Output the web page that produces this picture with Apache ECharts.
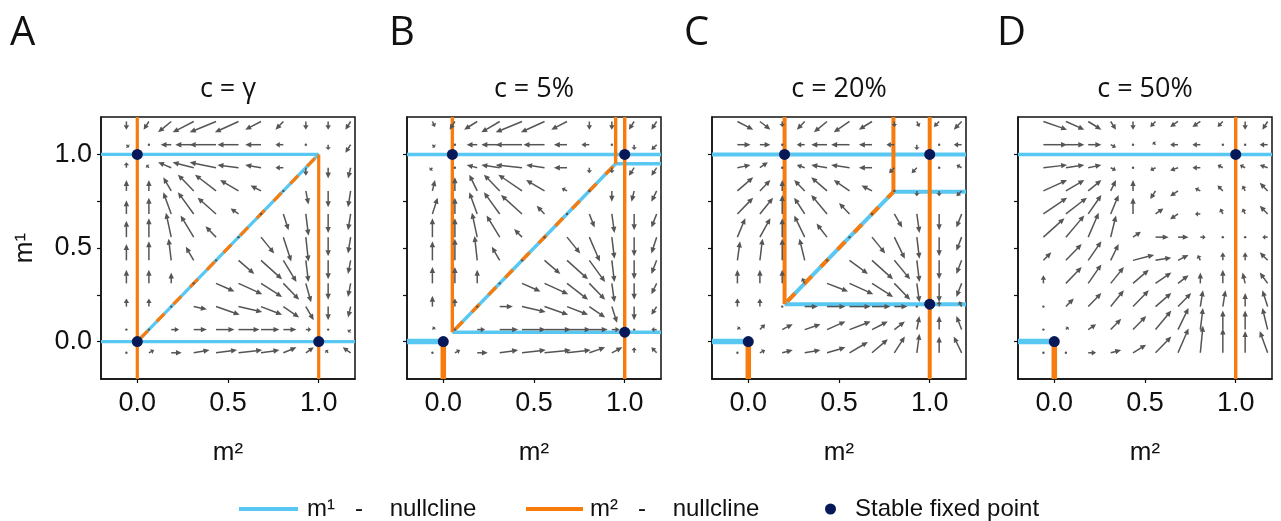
<!DOCTYPE html>
<html><head><meta charset="utf-8">
<script src="https://cdn.jsdelivr.net/npm/echarts@6/dist/echarts.min.js"></script>
<style>html,body{margin:0;padding:0;background:#fff}#c{width:1281px;height:521px}</style>
</head><body><div id="c"></div>
<script>
// ---------- data ----------
const panelLetters = ['A', 'B', 'C', 'D'];
const panelTitles = ['c = γ', 'c = 5%', 'c = 20%', 'c = 50%'];
const xTickValues = [0, 0.5, 1];
const yTickValues = [0, 0.25, 0.5, 0.75, 1];
const labelValues = [0, 0.5, 1];
const fieldGrid = [-0.06, 0.064, 0.187, 0.311, 0.434, 0.558, 0.682, 0.805, 0.929, 1.052, 1.176];

// arrow vectors [dm2, dm1] (relative units), rows from top (m1 = 1.176) to bottom (m1 = -0.06)
const fieldA = [
  [[0,-3],[-2,-3],[-5,-4],[-8,-4],[-10,-4],[-9,-4],[-6,-3],[-3,-3],[0,-3],[0,-3],[-2,-3]],
  [[1,-1],[0,0],[-4,0],[-7,0],[-10,0],[-8,0],[-6,0],[-3,0],[0,-1],[0,-2],[-2,-3]],
  [[0,2],[-1,1],[-5,2],[-8,2],[-10,2],[-8,1],[-6,1],[-3,0],[0,-3],[0,-4],[-1,-4]],
  [[0,4],[0,4],[-3,5],[-6,6],[-8,6],[-7,4],[-4,2],[0,0],[1,-5],[0,-6],[-1,-6]],
  [[0,5],[0,6],[-3,8],[-6,8],[-7,6],[-3,2],[0,0],[2,-6],[1,-8],[0,-7],[-1,-6]],
  [[0,6],[0,7],[-2,9],[-5,8],[-4,4],[0,0],[5,-6],[3,-9],[1,-9],[0,-7],[-1,-6]],
  [[0,6],[0,7],[-1,8],[-3,5],[0,0],[6,-5],[8,-7],[5,-8],[1,-8],[0,-7],[-1,-5]],
  [[0,5],[0,5],[0,4],[0,0],[7,-3],[9,-4],[8,-5],[6,-6],[2,-7],[0,-6],[-1,-5]],
  [[0,3],[0,3],[0,0],[5,-1],[9,-3],[9,-2],[8,-3],[6,-4],[3,-5],[0,-5],[-1,-4]],
  [[0,1],[0,0],[3,0],[5,0],[7,0],[8,0],[7,0],[5,0],[2,0],[0,0],[-1,-1]],
  [[0,0],[2,1],[4,0],[6,1],[8,1],[9,1],[7,1],[5,2],[3,2],[-1,1],[-3,2]]
];
const fieldB = [
  [[1,-2],[-2,-3],[-5,-3],[-7,-4],[-10,-4],[-9,-4],[-6,-3],[0,-3],[0,-3],[-2,-3],[-2,-3]],
  [[1,-1],[0,0],[-4,0],[-7,0],[-10,0],[-8,0],[-5,0],[-3,0],[0,-1],[0,-2],[-2,-2]],
  [[-1,-1],[0,0],[-4,1],[-7,1],[-10,1],[-7,1],[-5,0],[0,-2],[0,-2],[-2,-3],[-2,-3]],
  [[1,4],[0,5],[-3,6],[-6,6],[-9,6],[-7,4],[-2,1],[0,0],[0,-4],[-1,-4],[-2,-4]],
  [[2,6],[0,6],[-3,8],[-6,8],[-8,7],[-3,3],[0,0],[2,-5],[1,-7],[0,-6],[-2,-5]],
  [[0,7],[0,7],[-2,9],[-5,8],[-3,3],[0,0],[5,-6],[4,-9],[1,-8],[0,-7],[-2,-6]],
  [[0,7],[0,8],[-1,9],[-3,5],[0,0],[6,-5],[8,-7],[6,-8],[1,-8],[0,-7],[-2,-5]],
  [[0,6],[0,6],[0,5],[0,0],[7,-3],[9,-4],[8,-6],[6,-6],[1,-7],[0,-6],[-2,-4]],
  [[0,4],[0,3],[0,0],[5,0],[9,-2],[9,-3],[8,-3],[6,-4],[2,-6],[0,-5],[-2,-3]],
  [[1,1],[0,0],[3,0],[7,0],[9,0],[10,0],[9,0],[7,0],[3,0],[0,0],[-2,0]],
  [[0,0],[2,1],[4,0],[7,1],[9,1],[10,1],[9,1],[6,2],[4,2],[0,2],[-2,2]]
];
const fieldC = [
  [[6,-3],[4,-3],[0,-2],[-3,-3],[-5,-4],[-6,-4],[-5,-3],[0,-2],[1,-2],[-2,-2],[-3,-3]],
  [[5,0],[4,0],[0,0],[-3,0],[-6,0],[-7,0],[-5,0],[-3,0],[0,-2],[0,0],[-3,0]],
  [[5,1],[3,2],[0,1],[-3,1],[-6,1],[-7,1],[-5,0],[-2,-2],[-2,-2],[0,0],[-2,1]],
  [[6,5],[4,4],[0,4],[-4,4],[-6,5],[-6,4],[-4,2],[0,0],[0,-2],[0,-2],[-2,-2]],
  [[6,6],[5,6],[0,7],[-4,6],[-6,7],[-4,4],[0,0],[3,-5],[1,-7],[0,-6],[-2,-5]],
  [[3,7],[4,7],[0,7],[-4,8],[-4,5],[0,0],[5,-6],[4,-8],[1,-8],[0,-7],[-2,-5]],
  [[1,7],[1,8],[0,8],[-2,8],[0,0],[7,-5],[8,-7],[6,-7],[1,-8],[0,-7],[-2,-5]],
  [[0,5],[0,5],[0,5],[-1,2],[8,-3],[9,-4],[8,-5],[6,-6],[1,-7],[0,-7],[-2,-5]],
  [[0,3],[0,3],[0,0],[5,0],[7,0],[8,0],[7,0],[5,0],[0,0],[0,2],[-1,2]],
  [[1,1],[2,2],[4,2],[6,2],[7,3],[8,3],[6,3],[4,3],[1,5],[0,5],[-2,5]],
  [[0,0],[2,1],[4,1],[6,1],[7,2],[7,4],[6,5],[4,6],[1,7],[0,6],[-3,6]]
];
const fieldD = [
  [[9,-3],[7,-3],[5,-3],[2,-3],[0,-3],[-2,-2],[-3,-2],[-3,-2],[-2,-2],[0,-3],[-2,-3]],
  [[9,0],[7,0],[5,0],[2,-1],[0,0],[-1,1],[-3,0],[-3,0],[-1,0],[0,0],[-3,0]],
  [[9,1],[7,1],[5,1],[2,-1],[0,0],[-2,-1],[-3,-1],[-3,0],[-2,1],[-2,1],[-3,1]],
  [[9,4],[7,4],[5,4],[2,4],[0,4],[-2,-3],[-3,-2],[-2,1],[-2,2],[-1,2],[-3,3]],
  [[9,6],[8,6],[5,7],[3,7],[0,6],[3,2],[-3,-2],[-2,0],[-1,2],[-1,2],[-3,3]],
  [[8,7],[7,8],[4,9],[2,8],[3,2],[5,0],[4,0],[2,0],[0,0],[0,0],[-2,0]],
  [[3,3],[6,6],[5,7],[3,6],[8,2],[6,1],[4,2],[-1,2],[0,3],[0,3],[-3,3]],
  [[0,3],[6,6],[5,7],[5,6],[6,5],[6,4],[4,3],[0,4],[0,5],[-1,4],[-3,4]],
  [[0,1],[3,3],[5,5],[5,6],[6,6],[6,5],[5,5],[1,6],[1,6],[0,5],[-2,6]],
  [[0,0],[1,1],[3,2],[4,4],[5,5],[6,7],[4,8],[1,8],[0,7],[0,7],[-2,8]],
  [[0,0],[1,0],[3,0],[4,1],[5,3],[6,6],[4,9],[1,10],[0,9],[0,8],[-3,8]]
];

// nullcline segments [[m2, m1], [m2, m1]]
const m1NullA = [[[-0.2,1],[1,1]], [[-0.2,0],[1.2,0]], [[0,0],[1,1]]];
const m2NullA = [[[0,-0.2],[0,1.2]], [[1,-0.2],[1,1]]];
const m1NullB = [[[-0.2,1],[1.2,1]], [[0.95,0.95],[1.2,0.95]], [[0.05,0.05],[1.2,0.05]], [[0.05,0.05],[0.95,0.95]]];
const m2NullB = [[[0.05,0.05],[0.05,1.2]], [[0.95,0.95],[0.95,1.2]], [[1,-0.2],[1,1.2]]];
const m1NullC = [[[-0.2,1],[1.2,1]], [[0.8,0.8],[1.2,0.8]], [[0.2,0.2],[1.2,0.2]], [[0.2,0.2],[0.8,0.8]]];
const m2NullC = [[[0.2,0.2],[0.2,1.2]], [[0.8,0.8],[0.8,1.2]], [[1,-0.2],[1,1.2]]];
const m1NullD = [[[-0.2,1],[1.2,1]]];
const m2NullD = [[[1,-0.2],[1,1.2]]];
// segments where both branches overlap (drawn heavier)
const m1OverlapBCD = [[-0.2,0],[0,0]];
const m2OverlapBCD = [[0,-0.2],[0,0]];
// diagonal where both nullclines coincide
const sharedDiag = [[[0,0],[1,1]], [[0.05,0.05],[0.95,0.95]], [[0.2,0.2],[0.8,0.8]], null];
// stable fixed points [m2, m1]
const fixedA = [[0,1],[0,0],[1,0]];
const fixedB = [[0.05,1],[1,1],[1,0.05],[0,0]];
const fixedC = [[0.2,1],[1,1],[1,0.2],[0,0]];
const fixedD = [[1,1],[0,0]];

// ---------- build ----------
const BLUE = '#58c7f1', ORANGE = '#f77b0d', NAVY = '#061857', ARROW = '#555555';
const SANS = '"Liberation Sans", Arial, Helvetica, sans-serif';
const TITLEF = '"Open Sans", "Liberation Sans", sans-serif';
const QUIVER_SCALE = 0.0145;
const fields = [fieldA, fieldB, fieldC, fieldD];
const m1Nulls = [m1NullA, m1NullB, m1NullC, m1NullD];
const m2Nulls = [m2NullA, m2NullB, m2NullC, m2NullD];
const fixeds = [fixedA, fixedB, fixedC, fixedD];
const gridLefts = [101, 407, 712, 1018];
const letterX = [10, 389, 684, 997];
const GW = 254, GH = 262, GT = 117;
const lineW = [3.2, 3.4, 4, 3.4];

const grids = [], xAxes = [], yAxes = [], series = [], graphics = [];
for (let i = 0; i < 4; i++) {
  grids.push({left: gridLefts[i], top: GT, width: GW, height: GH, show: true,
    borderColor: '#111', borderWidth: 1.5, backgroundColor: 'transparent'});
  xAxes.push({type: 'value', gridIndex: i, min: -0.2, max: 1.2,
    name: 'm²', nameLocation: 'middle', nameGap: 61,
    nameTextStyle: {fontSize: 26, fontFamily: SANS, color: '#111'},
    axisLine: {show: true, onZero: false, lineStyle: {color: '#111', width: 1.5}},
    axisTick: {show: true, length: 4, customValues: xTickValues, lineStyle: {color: '#111', width: 1.2}},
    axisLabel: {customValues: labelValues, formatter: v => v.toFixed(1), fontSize: 27,
      margin: 11, color: '#111', fontFamily: SANS},
    splitLine: {show: false}});
  yAxes.push({type: 'value', gridIndex: i, min: -0.2, max: 1.2,
    name: i === 0 ? 'm¹' : '', nameLocation: 'middle', nameGap: 63, nameRotate: 90,
    nameTextStyle: {fontSize: 26, fontFamily: SANS, color: '#111'},
    axisLine: {show: true, onZero: false, lineStyle: {color: '#111', width: 1.5}},
    axisTick: {show: true, length: 4, customValues: yTickValues, lineStyle: {color: '#111', width: 1.2}},
    axisLabel: {show: i === 0, customValues: labelValues, formatter: v => v.toFixed(1), fontSize: 27,
      margin: 9, color: '#111', fontFamily: SANS},
    splitLine: {show: false}});

  const addLine = (name, data, color, width, extra) => {
    series.push(Object.assign({type: 'line', name, xAxisIndex: i, yAxisIndex: i, data,
      symbol: 'none', showSymbol: false, silent: true, clip: true, color,
      lineStyle: {color, width, cap: 'butt'}, z: 2}, extra || {}));
  };
  m1Nulls[i].forEach(seg => addLine('m¹ - nullcline', seg, BLUE, lineW[i]));
  if (i > 0) addLine('m¹ - nullcline', m1OverlapBCD, BLUE, 5.5);
  m2Nulls[i].forEach(seg => addLine('m² - nullcline', seg, ORANGE, lineW[i], {z: 3}));
  if (i > 0) addLine('m² - nullcline', m2OverlapBCD, ORANGE, 5.5, {z: 3});
  if (sharedDiag[i]) addLine('m² - nullcline (shared)', sharedDiag[i], ORANGE, lineW[i],
    {z: 4, lineStyle: {color: ORANGE, width: lineW[i], type: [11, 13], dashOffset: -4}});

  // vector field (quiver, pivot at tail)
  const arrows = [];
  fields[i].forEach((row, r) => row.forEach((v, c) => {
    arrows.push([fieldGrid[c], fieldGrid[10 - r], v[0], v[1]]);
  }));
  series.push({type: 'custom', name: 'field' + i, xAxisIndex: i, yAxisIndex: i, data: arrows,
    encode: {x: 0, y: 1}, silent: true, clip: true, z: 5,
    renderItem: (params, api) => {
      const x = api.value(0), y = api.value(1);
      const dx = api.value(2) * QUIVER_SCALE, dy = api.value(3) * QUIVER_SCALE;
      const p0 = api.coord([x, y]);
      const p1 = api.coord([x + dx, y + dy]);
      const vx = p1[0] - p0[0], vy = p1[1] - p0[1];
      const len = Math.hypot(vx, vy);
      if (len < 3) {
        return {type: 'circle', shape: {cx: p0[0], cy: p0[1], r: 1.2}, style: {fill: ARROW}};
      }
      const ux = vx / len, uy = vy / len;
      const hl = Math.min(6, len * 0.55), hw = 2.7;
      const bx = p1[0] - ux * hl, by = p1[1] - uy * hl;
      return {type: 'group', children: [
        {type: 'line', shape: {x1: p0[0], y1: p0[1], x2: bx + ux * 0.5, y2: by + uy * 0.5},
          style: {stroke: ARROW, lineWidth: 1.5}},
        {type: 'polygon', shape: {points: [[p1[0], p1[1]], [bx - uy * hw, by + ux * hw], [bx + uy * hw, by - ux * hw]]},
          style: {fill: ARROW}}
      ]};
    }});

  series.push({type: 'scatter', name: 'Stable fixed point', xAxisIndex: i, yAxisIndex: i,
    data: fixeds[i], symbolSize: 11, color: NAVY, itemStyle: {color: NAVY, opacity: 1}, z: 10, silent: true});

  graphics.push({type: 'text', x: gridLefts[i] + GW / 2, y: 89,
    style: {text: panelTitles[i], font: '27px ' + TITLEF, fill: '#111', align: 'center', verticalAlign: 'middle'}});
  graphics.push({type: 'text', x: letterX[i], y: 34,
    style: {text: panelLetters[i], font: '40px ' + TITLEF, fill: '#111', align: 'left', verticalAlign: 'middle'}});
}

const legendBase = {orient: 'horizontal', top: 497, padding: 0, selectedMode: false,
  textStyle: {fontSize: 24, fontFamily: SANS, color: '#111'}};
const option = {
  animation: false,
  backgroundColor: '#fff',
  grid: grids, xAxis: xAxes, yAxis: yAxes, series,
  graphic: graphics,
  legend: [
    Object.assign({}, legendBase, {left: 239, data: [{name: 'm¹ - nullcline', icon: 'rect'}],
      itemWidth: 59, itemHeight: 4, itemStyle: {color: BLUE, borderWidth: 0},
      formatter: () => 'm¹   -    nullcline',
      textStyle: Object.assign({}, legendBase.textStyle, {padding: [0, 0, 0, 4]})}),
    Object.assign({}, legendBase, {left: 526, data: [{name: 'm² - nullcline', icon: 'rect'}],
      itemWidth: 57, itemHeight: 4, itemStyle: {color: ORANGE, borderWidth: 0},
      formatter: () => 'm²   -    nullcline',
      textStyle: Object.assign({}, legendBase.textStyle, {padding: [0, 0, 0, 2]})}),
    Object.assign({}, legendBase, {left: 825, data: [{name: 'Stable fixed point', icon: 'circle'}],
      itemWidth: 11, itemHeight: 11, itemStyle: {color: NAVY, borderWidth: 0, opacity: 1},
      textStyle: Object.assign({}, legendBase.textStyle, {padding: [0, 0, 0, 14]})})
  ]
};
const chart = echarts.init(document.getElementById('c'), null, {renderer: 'canvas'});
chart.setOption(option);
</script></body></html>
